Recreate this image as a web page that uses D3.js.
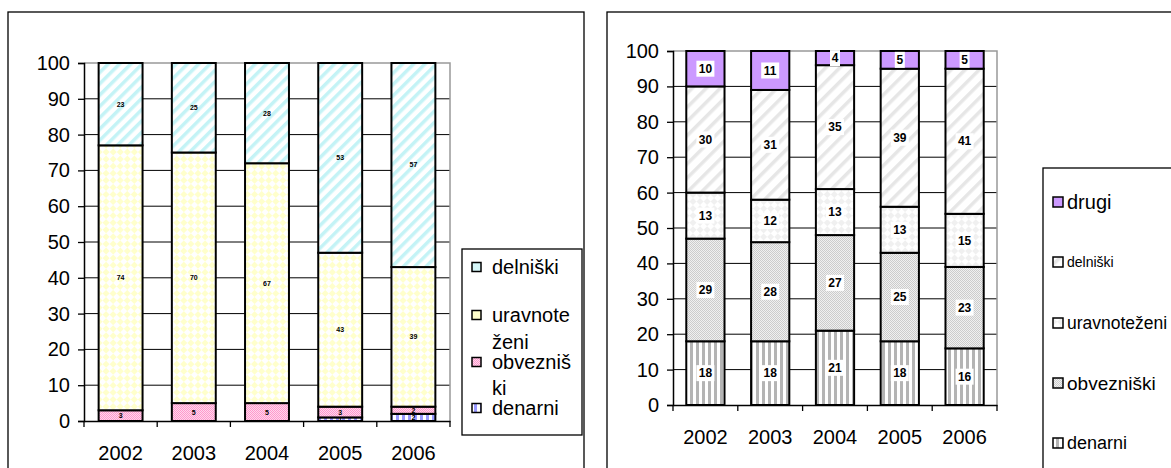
<!DOCTYPE html>
<html>
<head>
<meta charset="utf-8">
<script src="https://cdn.jsdelivr.net/npm/d3@7"></script>
<style>
body{margin:0;background:#fff;}
text{font-family:Arial,"Liberation Sans",sans-serif;}
</style>
</head>
<body>
<div id="chart-area"></div>
<script>
// data
var years=["2002","2003","2004","2005","2006"];
var yTicks=[0,10,20,30,40,50,60,70,80,90,100];

// left chart
var leftNames=["denarni","obvezniški","uravnoteženi","delniški"];
var leftDenarni=[0,0,0,1,2];
var leftObvezniski=[3,5,5,3,2];
var leftUravnotezeni=[74,70,67,43,39];
var leftDelniski=[23,25,28,53,57];

// right chart
var rightNames=["denarni","obvezniški","uravnoteženi","delniški","drugi"];
var rightDenarni=[18,18,21,18,16];
var rightObvezniski=[29,28,27,25,23];
var rightUravnotezeni=[13,12,13,13,15];
var rightDelniski=[30,31,35,39,41];
var rightDrugi=[10,11,4,5,5];

var svg=d3.select("#chart-area").append("svg")
    .attr("width",1171)
    .attr("height",468);

var defs=svg.append("defs");

function stripes(id,bg,fg,size,w,angle){
    var p=defs.append("pattern").attr("id",id)
        .attr("patternUnits","userSpaceOnUse")
        .attr("width",size).attr("height",size)
        .attr("patternTransform","rotate("+angle+")");
    p.append("rect").attr("width",size).attr("height",size).attr("fill",bg);
    p.append("rect").attr("width",w).attr("height",size).attr("fill",fg);
}
function diamonds(id,bg,fg,size){
    var p=defs.append("pattern").attr("id",id)
        .attr("patternUnits","userSpaceOnUse")
        .attr("width",size).attr("height",size)
        .attr("patternTransform","rotate(45)");
    p.append("rect").attr("width",size).attr("height",size).attr("fill",bg);
    p.append("rect").attr("width",size/2).attr("height",size/2).attr("fill",fg);
    p.append("rect").attr("x",size/2).attr("y",size/2).attr("width",size/2).attr("height",size/2).attr("fill",fg);
}
function checker(id,a,b){
    var p=defs.append("pattern").attr("id",id)
        .attr("patternUnits","userSpaceOnUse")
        .attr("width",2).attr("height",2);
    p.append("rect").attr("width",2).attr("height",2).attr("fill",a);
    p.append("rect").attr("width",1).attr("height",1).attr("fill",b);
    p.append("rect").attr("x",1).attr("y",1).attr("width",1).attr("height",1).attr("fill",b);
}

stripes("lDel","#ffffff","#c4f3f6",8,3.5,45);
diamonds("lUra","#ffffff","#ffffcc",10);
checker("lObv","#ffd6ec","#ff99cc");
stripes("lDen","#ffffff","#9999ff",6,3,0);

stripes("rDel","#ffffff","#e6e6e6",10,3.5,45);
diamonds("rUra","#ffffff","#f0f0f0",10);
checker("rObv","#f0f0f0","#cccccc");
stripes("rDen","#ffffff","#b4b4b4",6,3,0);

function drawChart(cfg){
    var g=svg.append("g");

    g.append("rect")
        .attr("x",cfg.frame[0]).attr("y",cfg.frame[1])
        .attr("width",cfg.frame[2]).attr("height",cfg.frame[3])
        .attr("fill","none").attr("stroke","#000").attr("stroke-width",1.3);

    var x=d3.scaleBand().domain(years)
        .range([cfg.left,cfg.right])
        .paddingInner(cfg.pad).paddingOuter(cfg.pad/2);
    var y=d3.scaleLinear().domain([0,100]).range([cfg.bottom,cfg.top]);

    // grid
    g.selectAll(".grid").data(yTicks.slice(1,-1)).enter().append("line")
        .attr("x1",cfg.left).attr("x2",cfg.right)
        .attr("y1",d=>y(d)).attr("y2",d=>y(d))
        .attr("stroke","#000").attr("stroke-width",1);
    g.append("path")
        .attr("d","M"+cfg.left+","+y(100)+"H"+cfg.right+"V"+y(0))
        .attr("fill","none").attr("stroke","#999").attr("stroke-width",1.5);

    // stacked bars
    var rows=years.map((yr,i)=>{
        var o={year:yr};
        cfg.series.forEach((s,j)=>{o[cfg.names[j]]=s[i];});
        return o;
    });
    var stacked=d3.stack().keys(cfg.names)(rows);

    var layers=g.selectAll(".layer").data(stacked).enter().append("g");
    layers.each(function(layer,j){
        d3.select(this).selectAll("rect").data(layer).enter().append("rect")
            .attr("x",d=>x(d.data.year))
            .attr("y",d=>y(d[1]))
            .attr("width",x.bandwidth())
            .attr("height",d=>y(d[0])-y(d[1]))
            .attr("fill",cfg.fills[j])
            .attr("stroke","#000")
            .attr("stroke-width",2);
    });

    // labels
    layers.each(function(layer,j){
        var lab=d3.select(this).selectAll(".lab").data(layer.filter(d=>d[1]-d[0]>0)).enter().append("g")
            .attr("transform",d=>"translate("+(x(d.data.year)+x.bandwidth()/2)+","+(y((d[0]+d[1])/2))+")");
        if(cfg.labelBg){
            lab.append("rect")
                .attr("x",d=>String(d[1]-d[0]).length>1?-9:-5)
                .attr("y",-8)
                .attr("width",d=>String(d[1]-d[0]).length>1?18:10)
                .attr("height",16)
                .attr("fill","#fff");
        }
        lab.append("text")
            .attr("text-anchor","middle")
            .attr("dy","0.35em")
            .attr("font-size",cfg.labelSize+"px")
            .attr("font-weight","bold")
            .attr("fill","#000")
            .text(d=>d[1]-d[0]);
    });

    // axes
    var leftAxis=d3.axisLeft(y).tickValues(yTicks).tickSize(6).tickPadding(8);
    var ga=g.append("g").attr("transform","translate("+cfg.left+",0)").call(leftAxis);
    ga.attr("font-size",null).attr("font-family",null);
    ga.select(".domain").attr("stroke","#000").attr("stroke-width",1.5);
    ga.selectAll(".tick line").attr("stroke","#000").attr("stroke-width",1.3);
    ga.selectAll("text").style("font-size","20px").attr("fill","#000");

    var bottomAxis=d3.axisBottom(x).tickSize(0).tickPadding(cfg.xPad);
    var gb=g.append("g").attr("transform","translate(0,"+cfg.bottom+")").call(bottomAxis);
    gb.attr("font-size",null).attr("font-family",null);
    gb.select(".domain").attr("stroke","#000").attr("stroke-width",1.5);
    gb.selectAll("text").style("font-size","20px").attr("fill","#000");
    var step=x.step();
    gb.selectAll(".cat").data(d3.range(years.length+1)).enter().append("line")
        .attr("x1",i=>cfg.left+i*step).attr("x2",i=>cfg.left+i*step)
        .attr("y1",0).attr("y2",6)
        .attr("stroke","#000").attr("stroke-width",1.3);

    // legend
    var lg=g.append("g");
    lg.append("rect")
        .attr("x",cfg.legend.x).attr("y",cfg.legend.y)
        .attr("width",cfg.legend.w).attr("height",cfg.legend.h)
        .attr("fill","#fff").attr("stroke","#000").attr("stroke-width",1.3);
    cfg.legend.items.forEach(it=>{
        lg.append("rect")
            .attr("x",cfg.legend.sx).attr("y",it.y-cfg.legend.ss/2)
            .attr("width",cfg.legend.ss).attr("height",cfg.legend.ss)
            .attr("fill",it.swatch||cfg.fills[it.idx])
            .attr("stroke","#000").attr("stroke-width",1.5);
        it.lines.forEach((t,k)=>{
            lg.append("text")
                .attr("x",cfg.legend.tx)
                .attr("y",it.y+k*it.lh)
                .attr("dy","0.35em")
                .style("font-size",it.size+"px")
                .attr("fill","#000")
                .text(t);
        });
    });
}

drawChart({
    frame:[8,12,576,480],
    left:84,right:450,top:63,bottom:421,
    pad:0.4,
    names:leftNames,
    series:[leftDenarni,leftObvezniski,leftUravnotezeni,leftDelniski],
    fills:["url(#lDen)","url(#lObv)","url(#lUra)","url(#lDel)"],
    labelSize:7,labelBg:false,xPad:25,
    legend:{x:462,y:249,w:120,h:186,sx:472,ss:9,tx:492,
        items:[
            {idx:3,y:267,lines:["delniški"],lh:0,size:20,swatch:"#d6f7f9"},
            {idx:2,y:315,lines:["uravnote","ženi"],lh:27,size:20,swatch:"#ffffcc"},
            {idx:1,y:362,lines:["obvezniš","ki"],lh:26,size:20},
            {idx:0,y:408,lines:["denarni"],lh:0,size:20}
        ]}
});

drawChart({
    frame:[607,12,600,480],
    left:673,right:997,top:51,bottom:405,
    pad:0.41,
    names:rightNames,
    series:[rightDenarni,rightObvezniski,rightUravnotezeni,rightDelniski,rightDrugi],
    fills:["url(#rDen)","url(#rObv)","url(#rUra)","url(#rDel)","#cc99ff"],
    labelSize:12,labelBg:true,xPad:25,
    legend:{x:1043,y:168,w:200,h:340,sx:1053,ss:10,tx:1067,
        items:[
            {idx:4,y:202,lines:["drugi"],lh:0,size:20},
            {idx:3,y:262,lines:["delniški"],lh:0,size:14},
            {idx:2,y:323,lines:["uravnoteženi"],lh:0,size:17.5},
            {idx:1,y:383,lines:["obvezniški"],lh:0,size:19},
            {idx:0,y:443,lines:["denarni"],lh:0,size:18}
        ]}
});
</script>
</body>
</html>
